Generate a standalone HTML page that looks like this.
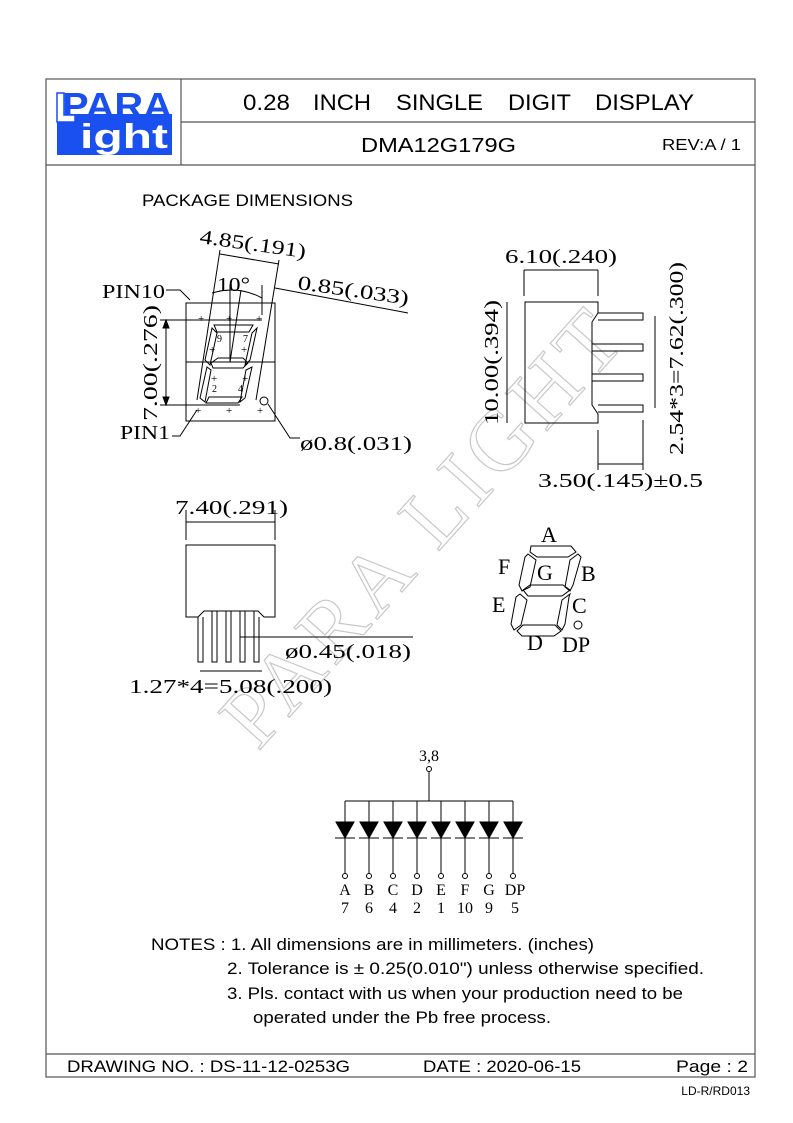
<!DOCTYPE html>
<html><head><style>
body{margin:0;background:#fff}
svg{display:block}
.s{font-family:"Liberation Sans",sans-serif}
.r{font-family:"Liberation Serif",serif}
</style></head><body>
<svg width="793" height="1123" viewBox="0 0 793 1123" xmlns="http://www.w3.org/2000/svg">
<text x="0" y="0" transform="translate(258,752) rotate(-48)" font-family="Liberation Serif" font-size="86" fill="none" stroke="#c8c8c8" stroke-width="1.2" letter-spacing="6">PARA LIGHT</text>

<g stroke="#555" stroke-width="1.2" fill="none">
<rect x="46" y="79" width="709" height="998"/>
<line x1="181" y1="79" x2="181" y2="165"/>
<line x1="181" y1="122" x2="755" y2="122"/>
<line x1="46" y1="165" x2="755" y2="165"/>
<line x1="46" y1="1054" x2="755" y2="1054"/>
</g>

<rect x="57" y="114" width="115" height="41" fill="#1a4ff0"/>
<text x="62" y="118" class="s" font-size="36" font-weight="bold" fill="#1a4ff0" textLength="110" lengthAdjust="spacingAndGlyphs">PARA</text>
<path d="M57 93 H64 V115 H75 V122 H57 Z" fill="#fff" stroke="#1a4ff0" stroke-width="1.5"/>
<text x="80" y="148" class="s" font-size="34" font-weight="bold" fill="#fff" textLength="88" lengthAdjust="spacingAndGlyphs">ight</text>

<g class="s" font-size="22">
<text x="243" y="110" textLength="47" lengthAdjust="spacingAndGlyphs">0.28</text>
<text x="313" y="110" textLength="58" lengthAdjust="spacingAndGlyphs">INCH</text>
<text x="396" y="110" textLength="87" lengthAdjust="spacingAndGlyphs">SINGLE</text>
<text x="508" y="110" textLength="63" lengthAdjust="spacingAndGlyphs">DIGIT</text>
<text x="595" y="110" textLength="99" lengthAdjust="spacingAndGlyphs">DISPLAY</text>
</g>
<text x="361" y="152" class="s" font-size="20" textLength="155" lengthAdjust="spacingAndGlyphs">DMA12G179G</text>
<text x="662" y="150" class="s" font-size="16" textLength="79" lengthAdjust="spacingAndGlyphs">REV:A / 1</text>

<text x="142" y="206" class="s" font-size="16.5" textLength="211" lengthAdjust="spacingAndGlyphs">PACKAGE DIMENSIONS</text>

<g stroke="#000" stroke-width="1" fill="none">
<rect x="186" y="303" width="89" height="118"/>
<line x1="186" y1="362" x2="275" y2="362"/>
<line x1="160" y1="320" x2="262" y2="320"/>
<line x1="160" y1="405" x2="240" y2="405"/>
<line x1="166" y1="320" x2="166" y2="405"/>
<path d="M166 320 l-3 8 h6z M166 405 l-3 -8 h6z" fill="#000"/>
<path d="M214 325 L253 325 L249 332 L217 332 Z"/>
<path d="M212 328 L205 360 L210 365 L217 333 Z"/>
<path d="M257 328 L250 360 L245 365 L252 333 Z"/>
<path d="M211 363 L218 358 L243 358 L248 363 L243 368 L213 368 Z"/>
<path d="M207 367 L200 398 L205 402 L211 370 Z"/>
<path d="M252 367 L245 398 L240 402 L246 370 Z"/>
<path d="M206 403 L238 403 L242 397 L209 397 Z"/>
<circle cx="264" cy="401" r="4"/>
<line x1="220" y1="250" x2="197" y2="400"/>
<line x1="279" y1="260" x2="256" y2="400"/>
<line x1="220" y1="254" x2="279" y2="264"/>
<line x1="230" y1="285" x2="230" y2="362"/>
<line x1="241" y1="290" x2="230" y2="362"/>
<line x1="262" y1="285" x2="262" y2="315"/>
<path d="M212 293 Q238 285 262 298"/>
<line x1="275" y1="288" x2="408" y2="313"/>
<path d="M166 290 H180 L190 300"/>
<path d="M172 436 H180 L197 410"/>
<path d="M300 438 H290 L268 404"/>
</g>
<g font-size="11" class="r">
<text x="198" y="322">+</text><text x="226" y="322">+</text><text x="256" y="322">+</text>
<text x="209" y="353">+</text><text x="241" y="353">+</text>
<text x="211" y="382">+</text><text x="242" y="382">+</text>
<text x="195" y="414">+</text><text x="226" y="414">+</text><text x="257" y="414">+</text>
<text x="217" y="342" font-size="10">9</text><text x="243" y="342" font-size="10">7</text>
<text x="212" y="392" font-size="10">2</text><text x="238" y="392" font-size="10">4</text>
</g>
<g class="r" font-size="20">
<text x="0" y="0" transform="translate(199,243) rotate(8)" textLength="107" lengthAdjust="spacingAndGlyphs">4.85(.191)</text>
<text x="217" y="291" textLength="33" lengthAdjust="spacingAndGlyphs">10°</text>
<text x="0" y="0" transform="translate(297,289) rotate(8)" textLength="112" lengthAdjust="spacingAndGlyphs">0.85(.033)</text>
<text x="102" y="298" textLength="63" lengthAdjust="spacingAndGlyphs">PIN10</text>
<text x="120" y="439" textLength="50" lengthAdjust="spacingAndGlyphs">PIN1</text>
<text x="300" y="450" textLength="112" lengthAdjust="spacingAndGlyphs">ø0.8(.031)</text>
<text x="0" y="0" transform="translate(157,421) rotate(-90)" textLength="116" lengthAdjust="spacingAndGlyphs">7.00(.276)</text>
</g>

<g stroke="#000" stroke-width="1" fill="none">
<path d="M525 302 H598 V313 L592 322 V405 L598 414 V423 H525 Z"/>
<path d="M598 313 H643 V320 H598 M592 344 H643 V351 H592 M592 374 H643 V381 H592 M598 405 H643 V412 H598"/>
<line x1="524" y1="270" x2="524" y2="296"/><line x1="598" y1="270" x2="598" y2="296"/>
<line x1="524" y1="270" x2="598" y2="270"/>
<line x1="507" y1="302" x2="507" y2="423"/>
<line x1="655" y1="316" x2="655" y2="408"/>
<line x1="598" y1="430" x2="598" y2="470"/><line x1="643" y1="420" x2="643" y2="470"/>
<line x1="598" y1="464" x2="643" y2="464"/>
</g>
<g class="r" font-size="20">
<text x="505" y="263" textLength="112" lengthAdjust="spacingAndGlyphs">6.10(.240)</text>
<text x="0" y="0" transform="translate(498,425) rotate(-90)" textLength="125" lengthAdjust="spacingAndGlyphs">10.00(.394)</text>
<text x="0" y="0" transform="translate(683,455) rotate(-90)" textLength="193" lengthAdjust="spacingAndGlyphs">2.54*3=7.62(.300)</text>
<text x="538" y="487" textLength="165" lengthAdjust="spacingAndGlyphs">3.50(.145)±0.5</text>
</g>

<g stroke="#000" stroke-width="1" fill="none">
<path d="M186 545 H275 V617 H264 L258 611 H204 L198 617 H186 Z"/>
<path d="M198 617 V662 H203 V617 M212 611 V662 H217 V611 M226 611 V662 H231 V611 M240 611 V662 H245 V611 M254 611 V662 H259 V617"/>
<line x1="186" y1="510" x2="186" y2="540"/><line x1="275" y1="510" x2="275" y2="540"/>
<line x1="186" y1="522" x2="275" y2="522"/>
<line x1="240" y1="637" x2="413" y2="637"/>
<line x1="200" y1="671" x2="262" y2="671"/>
</g>
<g class="r" font-size="20">
<text x="175" y="514" textLength="113" lengthAdjust="spacingAndGlyphs">7.40(.291)</text>
<text x="285" y="658" textLength="126" lengthAdjust="spacingAndGlyphs">ø0.45(.018)</text>
<text x="129" y="693" textLength="203" lengthAdjust="spacingAndGlyphs">1.27*4=5.08(.200)</text>
</g>

<g stroke="#000" stroke-width="1" fill="none">
<path d="M531 546 L571 546 L576 552 L568 557 L537 557 L530 552 Z"/>
<path d="M528 554 L536 560 L530 587 L522 591 L519 585 L525 557 Z"/>
<path d="M578 554 L570 560 L565 587 L570 591 L573 585 L581 557 Z"/>
<path d="M523 590 L530 585 L563 585 L570 590 L562 596 L528 596 Z"/>
<path d="M520 594 L527 600 L521 625 L514 630 L511 624 L516 597 Z"/>
<path d="M570 594 L562 600 L557 625 L562 630 L565 624 L569 597 Z"/>
<path d="M517 631 L523 625 L555 625 L561 631 L554 636 L522 636 Z"/>
<circle cx="578" cy="625" r="4"/>
</g>
<g class="r" font-size="22">
<text x="541" y="542">A</text><text x="498" y="574">F</text><text x="537" y="580">G</text>
<text x="581" y="581">B</text><text x="492" y="612">E</text><text x="572" y="613">C</text>
<text x="527" y="650">D</text><text x="562" y="652">DP</text>
</g>

<text x="429" y="761" class="r" font-size="16" text-anchor="middle">3,8</text>
<g stroke="#000" stroke-width="1" fill="none">
<circle cx="429" cy="769" r="2.5"/>
<line x1="429" y1="772" x2="429" y2="801"/>
<line x1="345" y1="801" x2="513" y2="801"/>
</g>
<g stroke="#000" stroke-width="1">
<g id="d"><line x1="345" y1="801" x2="345" y2="873"/><path d="M336 822 H354 L345 838 Z" fill="#000"/><line x1="335" y1="838" x2="355" y2="838"/><circle cx="345" cy="876" r="2.5" fill="#fff"/></g>
<use href="#d" x="24"/><use href="#d" x="48"/><use href="#d" x="72"/><use href="#d" x="96"/><use href="#d" x="120"/><use href="#d" x="144"/><use href="#d" x="168"/>
</g>
<g class="r" font-size="16" text-anchor="middle">
<text x="345" y="895">A</text><text x="369" y="895">B</text><text x="393" y="895">C</text><text x="417" y="895">D</text><text x="441" y="895">E</text><text x="465" y="895">F</text><text x="489" y="895">G</text><text x="515" y="895">DP</text>
<text x="345" y="913">7</text><text x="369" y="913">6</text><text x="393" y="913">4</text><text x="417" y="913">2</text><text x="441" y="913">1</text><text x="465" y="913">10</text><text x="489" y="913">9</text><text x="515" y="913">5</text>
</g>

<g class="s" font-size="16.5">
<text x="151" y="950" textLength="443" lengthAdjust="spacingAndGlyphs">NOTES : 1. All dimensions are in millimeters. (inches)</text>
<text x="227" y="974" textLength="477" lengthAdjust="spacingAndGlyphs">2. Tolerance is ± 0.25(0.010") unless otherwise specified.</text>
<text x="227" y="999" textLength="456" lengthAdjust="spacingAndGlyphs">3. Pls. contact with us when your production need to be</text>
<text x="253" y="1023" textLength="298" lengthAdjust="spacingAndGlyphs">operated under the Pb free process.</text>
</g>

<g class="s" font-size="16.5">
<text x="67" y="1072" textLength="283" lengthAdjust="spacingAndGlyphs">DRAWING NO. : DS-11-12-0253G</text>
<text x="423" y="1072" textLength="158" lengthAdjust="spacingAndGlyphs">DATE : 2020-06-15</text>
<text x="676" y="1072" textLength="72" lengthAdjust="spacingAndGlyphs">Page : 2</text>
</g>
<text x="750" y="1095" class="s" font-size="12" text-anchor="end">LD-R/RD013</text>
</svg>
</body></html>
